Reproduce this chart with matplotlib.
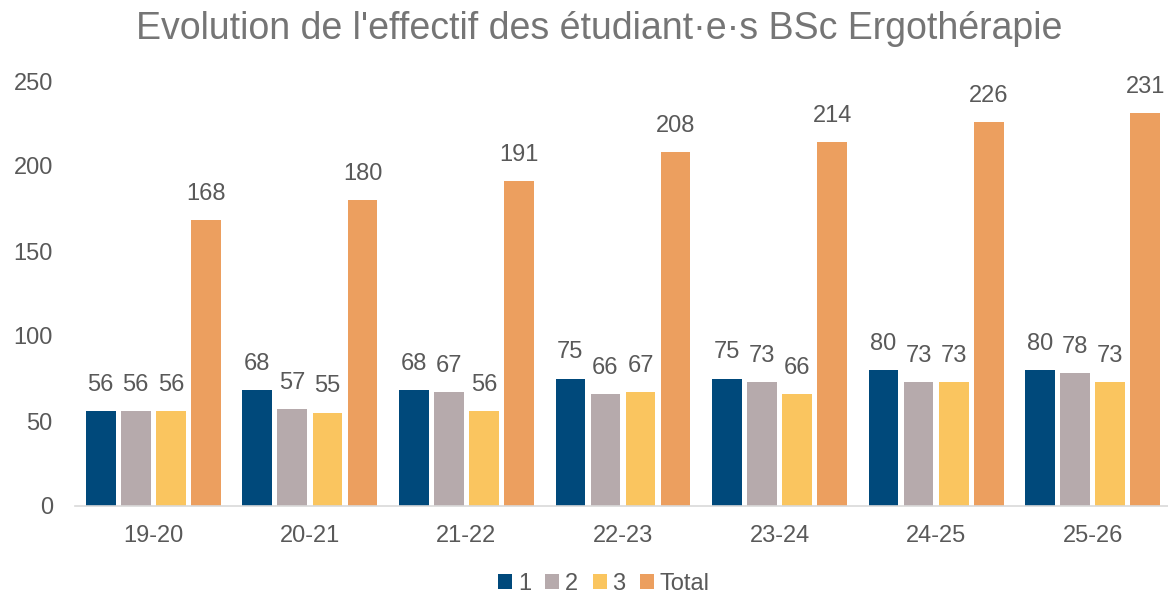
import numpy as np
import matplotlib.pyplot as plt

plt.rcParams['font.family'] = ['Liberation Sans', 'DejaVu Sans']

years = ["19-20", "20-21", "21-22", "22-23", "23-24", "24-25", "25-26"]
annee1 = [56, 68, 68, 75, 75, 80, 80]
annee2 = [56, 57, 67, 66, 73, 73, 78]
annee3 = [56, 55, 56, 67, 66, 73, 73]
total = [168, 180, 191, 208, 214, 226, 231]

series = [("1", annee1, "#00497B"), ("2", annee2, "#B6AAAC"),
          ("3", annee3, "#FAC55F"), ("Total", total, "#EC9F5F")]

text_col = "#595959"

fig = plt.figure(figsize=(11.68, 5.96), dpi=100)
ax = fig.add_axes([75 / 1168, (596 - 506) / 596, 1096 / 1168, 425 / 596])

x = np.arange(len(years))
step = 0.224
width = 0.19
for i, (name, vals, col) in enumerate(series):
    pos = x + (i - 1.5) * step
    bars = ax.bar(pos, vals, width=width, color=col, label=name, zorder=2)
    for b, v in zip(bars, vals):
        ax.annotate(str(v), (b.get_x() + b.get_width() / 2, v),
                    xytext=(0, 11), textcoords="offset points",
                    ha="center", va="bottom", fontsize=17, color=text_col)

ax.set_xlim(-0.5, len(years) - 0.5)
ax.set_ylim(0, 250)
ax.set_yticks(range(0, 251, 50))
ax.set_xticks(x)
ax.set_xticklabels(years)
ax.tick_params(axis="both", length=0, labelsize=17, labelcolor=text_col)
ax.tick_params(axis="y", pad=16)
ax.tick_params(axis="x", pad=14)
for s in ["top", "right", "left"]:
    ax.spines[s].set_visible(False)
ax.spines["bottom"].set_color("#D9D9D9")
ax.spines["bottom"].set_linewidth(1.2)

fig.text(0.513, 0.952, "Evolution de l'effectif des étudiant·e·s BSc Ergothérapie",
         ha="center", va="center", fontsize=27, color="#757575")

fig.legend(loc="center", bbox_to_anchor=(0.517, 0.02), ncol=4, frameon=False,
           fontsize=17, handlelength=0.6, handleheight=0.6, handletextpad=0.25,
           columnspacing=0.6, labelcolor=text_col)

fig.savefig("out.png", dpi=100)
